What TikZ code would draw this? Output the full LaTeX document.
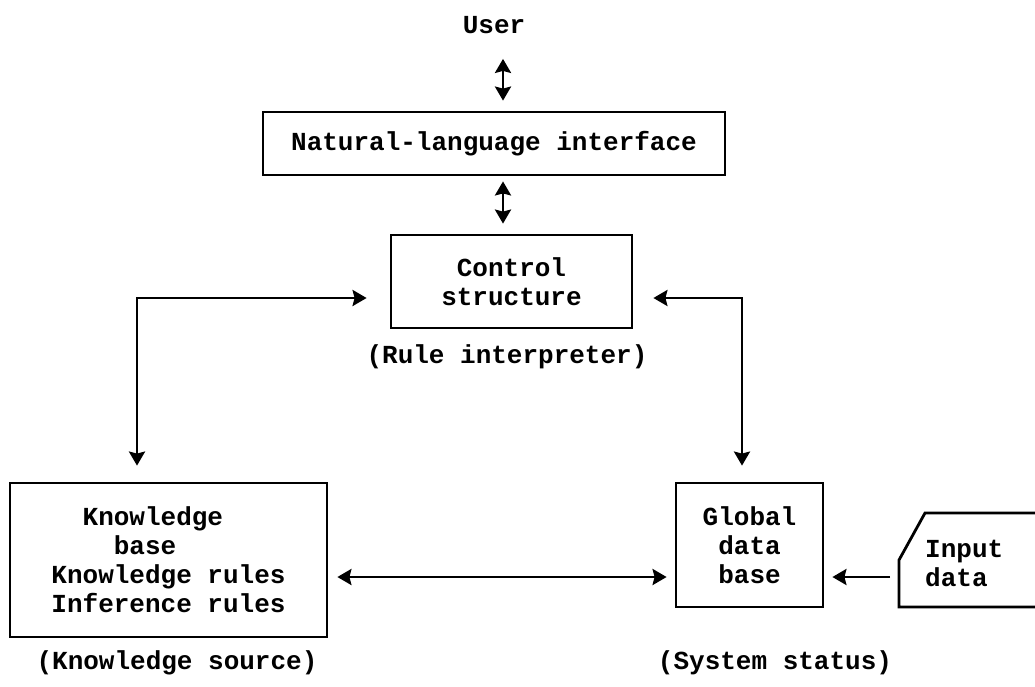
\documentclass[tikz,border=0pt]{standalone}
\usepackage{fontspec}
\setmainfont{Liberation Mono}
\usetikzlibrary{arrows.meta}
\begin{document}
\begin{tikzpicture}[x=1pt,y=-1pt,
  every node/.style={font=\fontsize{26}{29}\selectfont\bfseries, inner sep=0pt},
  blk/.style={draw, line width=2.8pt},
  conn/.style={line width=2.8pt},
  tip/.style={-{Stealth[length=14pt,width=16pt,inset=2pt]}},
  dbl/.style={{Stealth[length=14pt,width=16pt,inset=2pt]}-{Stealth[length=14pt,width=16pt,inset=2pt]}},
]
\useasboundingbox (0,0) rectangle (1035,686);

% boxes and labels
\node (user) at (494,25) {User};
\node[blk, minimum width=462pt, minimum height=63pt] (nli) at (494,143.5) {Natural-language interface};
\node[blk, minimum width=241pt, minimum height=93pt, align=center] (ctrl) at (511.5,281.5) {Control\\structure};
\node (rule) at (507,357) {(Rule interpreter)};
\node[blk, minimum width=317pt, minimum height=154pt, align=left] (kb) at (168.5,560)
  {\hphantom{Kn}Knowledge\\\hphantom{Know}base\\Knowledge rules\\Inference rules};
\node[blk, minimum width=147pt, minimum height=124pt, align=center] (glob) at (749.5,545) {Global\\data\\base};
\node (ksrc) at (177,663) {(Knowledge source)};
\node (sys) at (775,663) {(System status)};

% input data card with cut corner
\node[anchor=west, align=left] (inp) at (925,563) {Input\\data};
\draw[conn, line join=miter] (1045,513) -- (925,513) -- (899,560) -- (899,607) -- (1045,607);
\coordinate (inpedge) at (890,577);

% connectors
\draw[conn, dbl, shorten <=25pt, shorten >=10pt] ([xshift=9pt]user.south) -- ([xshift=9pt]nli.north);
\draw[conn, dbl, shorten <=5pt, shorten >=10pt] ([xshift=9pt]nli.south) -- ([xshift=9pt]nli.south |- ctrl.north);
\draw[conn, dbl] ([xshift=-23pt,yshift=-16.5pt]ctrl.west) -| ([xshift=-31.5pt,yshift=16pt]kb.north);
\draw[conn, dbl] ([xshift=20pt,yshift=-16.5pt]ctrl.east) -| ([xshift=-7.5pt,yshift=16pt]glob.north);
\draw[conn, dbl] ([xshift=9pt,yshift=-17pt]kb.east) -- ([xshift=-8pt,yshift=-32pt]glob.west);
\draw[conn, tip] (inpedge) -- ([xshift=8pt,yshift=-32pt]glob.east);
\end{tikzpicture}
\end{document}
